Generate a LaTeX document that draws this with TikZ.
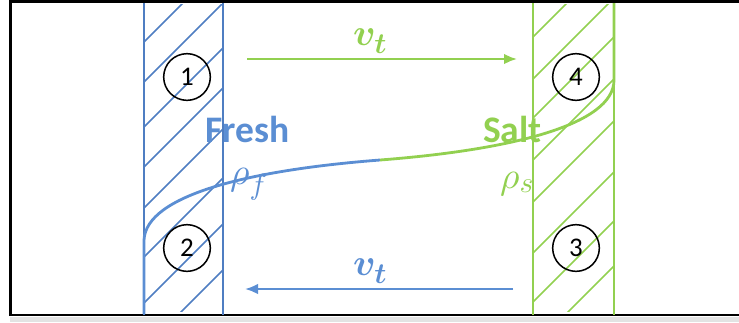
\documentclass[tikz,border=0pt]{standalone}
\usepackage{fontspec}
\setmainfont{Carlito}
\usepackage{amsmath}
\DeclareFontShape{OML}{cmm}{m}{it}{<->cmmi10}{}
\DeclareFontShape{OML}{cmm}{b}{it}{<->cmmib10}{}
\DeclareMathSizes{32}{32}{25}{20}
\usetikzlibrary{arrows.meta}
\definecolor{freshblue}{HTML}{5B8ED3}
\definecolor{wallblue}{HTML}{4F7EC2}
\definecolor{saltgreen}{HTML}{92D050}
\definecolor{shadegray}{HTML}{E3E3E3}
\tikzset{
  >={Latex[length=3.9mm,width=3.2mm]},
  boxline/.style={draw=black, line width=2.4pt},
  wall/.style={line width=1.6pt},
  hatch/.style={line width=1.4pt},
  flow/.style={->, line width=2pt},
  profile/.style={line width=2.4pt},
  cell/.style={
    draw=black,
    circle,
    line width=1.3pt,
    minimum size=1.4cm,
    inner sep=0pt,
    font=\fontsize{23}{25}\selectfont
  },
  phase/.style={anchor=base west, inner sep=0pt, font=\bfseries\fontsize{32}{36}\selectfont},
  density/.style={anchor=west, inner sep=0pt, font=\fontsize{32}{36}\selectfont},
  speed/.style={anchor=base west, inner sep=0pt, font=\fontsize{32}{36}\selectfont\boldmath}
}

\begin{document}
\begin{tikzpicture}[x=0.03cm,y=-0.03cm]
  \useasboundingbox (0,0) rectangle (739,322);

  \fill[shadegray] (10,317) rectangle (739,322);
  \draw[boxline] (739,1.5) -- (10.5,1.5) -- (10.5,315) -- (739,315);

  % hatched walls
  \begin{scope}
    \clip (144,4) rectangle (223,311);
    \foreach \c in {42,82,127,167,208,257,303,349}
      \draw[hatch, wallblue] (144,\c) -- ++(79,-79);
  \end{scope}
  \begin{scope}
    \clip (533,4) rectangle (614,311);
    \foreach \c in {37,79,118,160,202,253,302,347}
      \draw[hatch, saltgreen] (533,\c) -- ++(81,-81);
  \end{scope}

  \draw[wall, wallblue] (144,3) -- (144,315);
  \draw[wall, wallblue] (223,3) -- (223,315);
  \draw[wall, saltgreen] (533,3) -- (533,315);
  \draw[wall, saltgreen] (614,3) -- (614,315);

  % density profile
  \draw[profile, freshblue] (144,314) -- (144,240) .. controls (146,195) and (250,170) .. (380,160);
  \draw[profile, saltgreen] (380,160) .. controls (510,150) and (614,125) .. (614,80) -- (614,3);

  \node[cell] (one) at (187,77) {1};
  \node[cell] (two) at (187,248) {2};
  \node[cell] (three) at (576,248) {3};
  \node[cell] (four) at (576,77) {4};

  \node[phase, text=freshblue] (fresh) at (205,142) {Fresh};
  \node[phase, text=saltgreen] (salt) at (483,142) {Salt};
  \node[density, text=freshblue] (rhof) at (230,184) {$\rho_f$};
  \node[density, text=saltgreen] (rhos) at (500,184) {$\rho_s$};

  \node[speed, text=saltgreen] (vtop) at (353,45) {$v_t$};
  \node[speed, text=freshblue] (vbot) at (353,275) {$v_t$};

  \coordinate (topstart) at (247,59);
  \coordinate (topend) at (517,59);
  \coordinate (botstart) at (513,289);
  \coordinate (botend) at (245,289);
  \draw[flow, saltgreen] (topstart) -- (topend);
  \draw[flow, freshblue] (botstart) -- (botend);
\end{tikzpicture}
\end{document}
